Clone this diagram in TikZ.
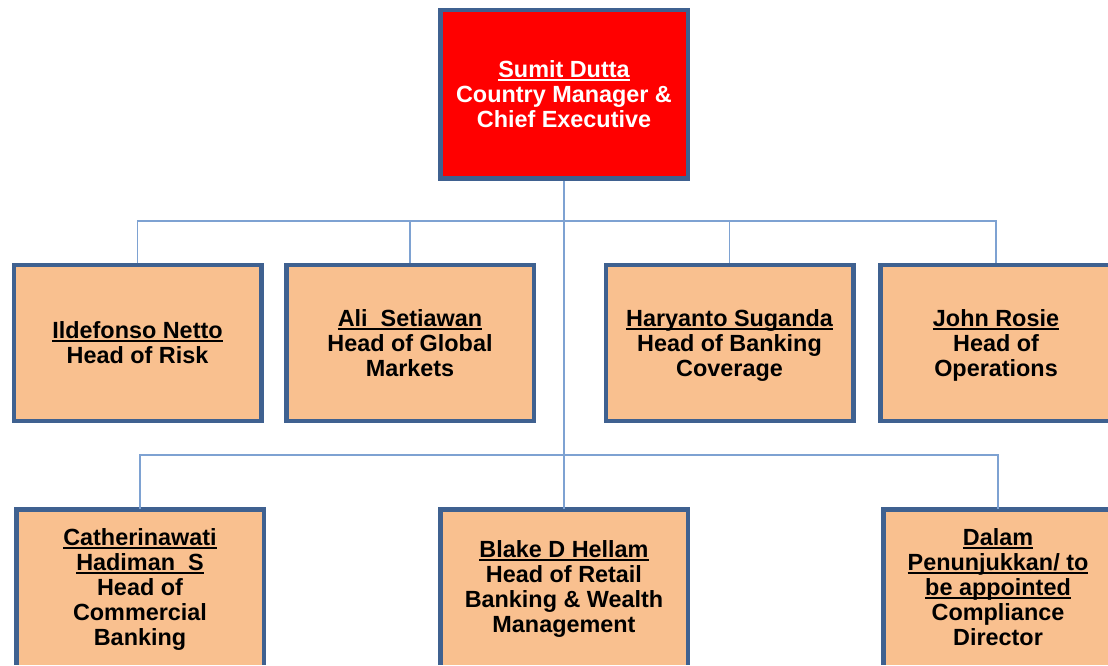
\documentclass[tikz,border=0pt]{standalone}
\usepackage{fontspec}
\setmainfont{Liberation Sans}
\definecolor{bordercol}{HTML}{3F6190}
\definecolor{linecol}{HTML}{7EA2D2}
\definecolor{peach}{HTML}{F9C08F}
\definecolor{topred}{HTML}{FF0000}
\newcommand\nameul[1]{\setbox0\hbox{#1}\rlap{\rule[-3.2pt]{\wd0}{1.7pt}}\box0}
\tikzset{
  orgbox/.style={draw=bordercol, line width=4.5pt, fill=peach, inner sep=0pt,
    minimum width=247.5pt, minimum height=155.5pt, align=center, text depth=0pt,
    font=\bfseries\fontsize{23.4}{25}\selectfont, text=black},
  topbox/.style={orgbox, fill=topred, text=white, minimum height=168.5pt},
  openbox/.style={orgbox, draw=none, outer sep=0pt},
  boxedge/.style={draw=bordercol, line width=4.5pt},
  conn/.style={draw=linecol, line width=1.7pt}
}
\begin{document}
\begin{tikzpicture}[x=1pt,y=1pt]
\useasboundingbox (0,0) rectangle (1108,665);
\clip (0,0) rectangle (1108,665);
\fill[white] (0,0) rectangle (1108,665);
% nodes
\node[topbox] (ceo) at (564,570.5) {\nameul{Sumit Dutta}\\Country Manager \&\\Chief Executive};
\node[orgbox] (risk) at (137.5,322) {\nameul{Ildefonso Netto}\\Head of Risk};
\node[orgbox] (markets) at (410,322) {\nameul{Ali~~Setiawan}\\Head of Global\\Markets};
\node[orgbox] (coverage) at (729.5,322) {\nameul{Haryanto Suganda}\\Head of Banking\\Coverage};
\node[orgbox, minimum width=231.5pt] (ops) at (996,322) {\nameul{John Rosie}\\Head of\\Operations};
\node[openbox] (commercial) at (140,78) {\nameul{Catherinawati}\\\nameul{Hadiman~~S}\\Head of\\Commercial\\Banking};
\node[openbox] (retail) at (564,78) {\nameul{Blake D Hellam}\\Head of Retail\\Banking \& Wealth\\Management};
\node[openbox, minimum width=229.5pt] (compliance) at (998,78) {\nameul{Dalam}\\\nameul{Penunjukkan/ to}\\\nameul{be appointed}\\Compliance\\Director};
% open borders of the bottom row (cut by the page edge)
\foreach \n in {commercial,retail,compliance}
  \draw[boxedge] (\n.south west) -- (\n.north west) -- (\n.north east) -- (\n.south east);
% connector levels
\coordinate (h1) at (564,444);
\coordinate (h2) at (564,210);
\draw[conn] (ceo.south) -- (retail.north);
\draw[conn] (risk.north) -- (risk.north |- h1) -- (ops.north |- h1) -- (ops.north);
\draw[conn] (markets.north) -- (markets.north |- h1);
\draw[conn] (coverage.north) -- (coverage.north |- h1);
\draw[conn] (commercial.north) -- (commercial.north |- h2) -- (compliance.north |- h2) -- (compliance.north);
\end{tikzpicture}
\end{document}
